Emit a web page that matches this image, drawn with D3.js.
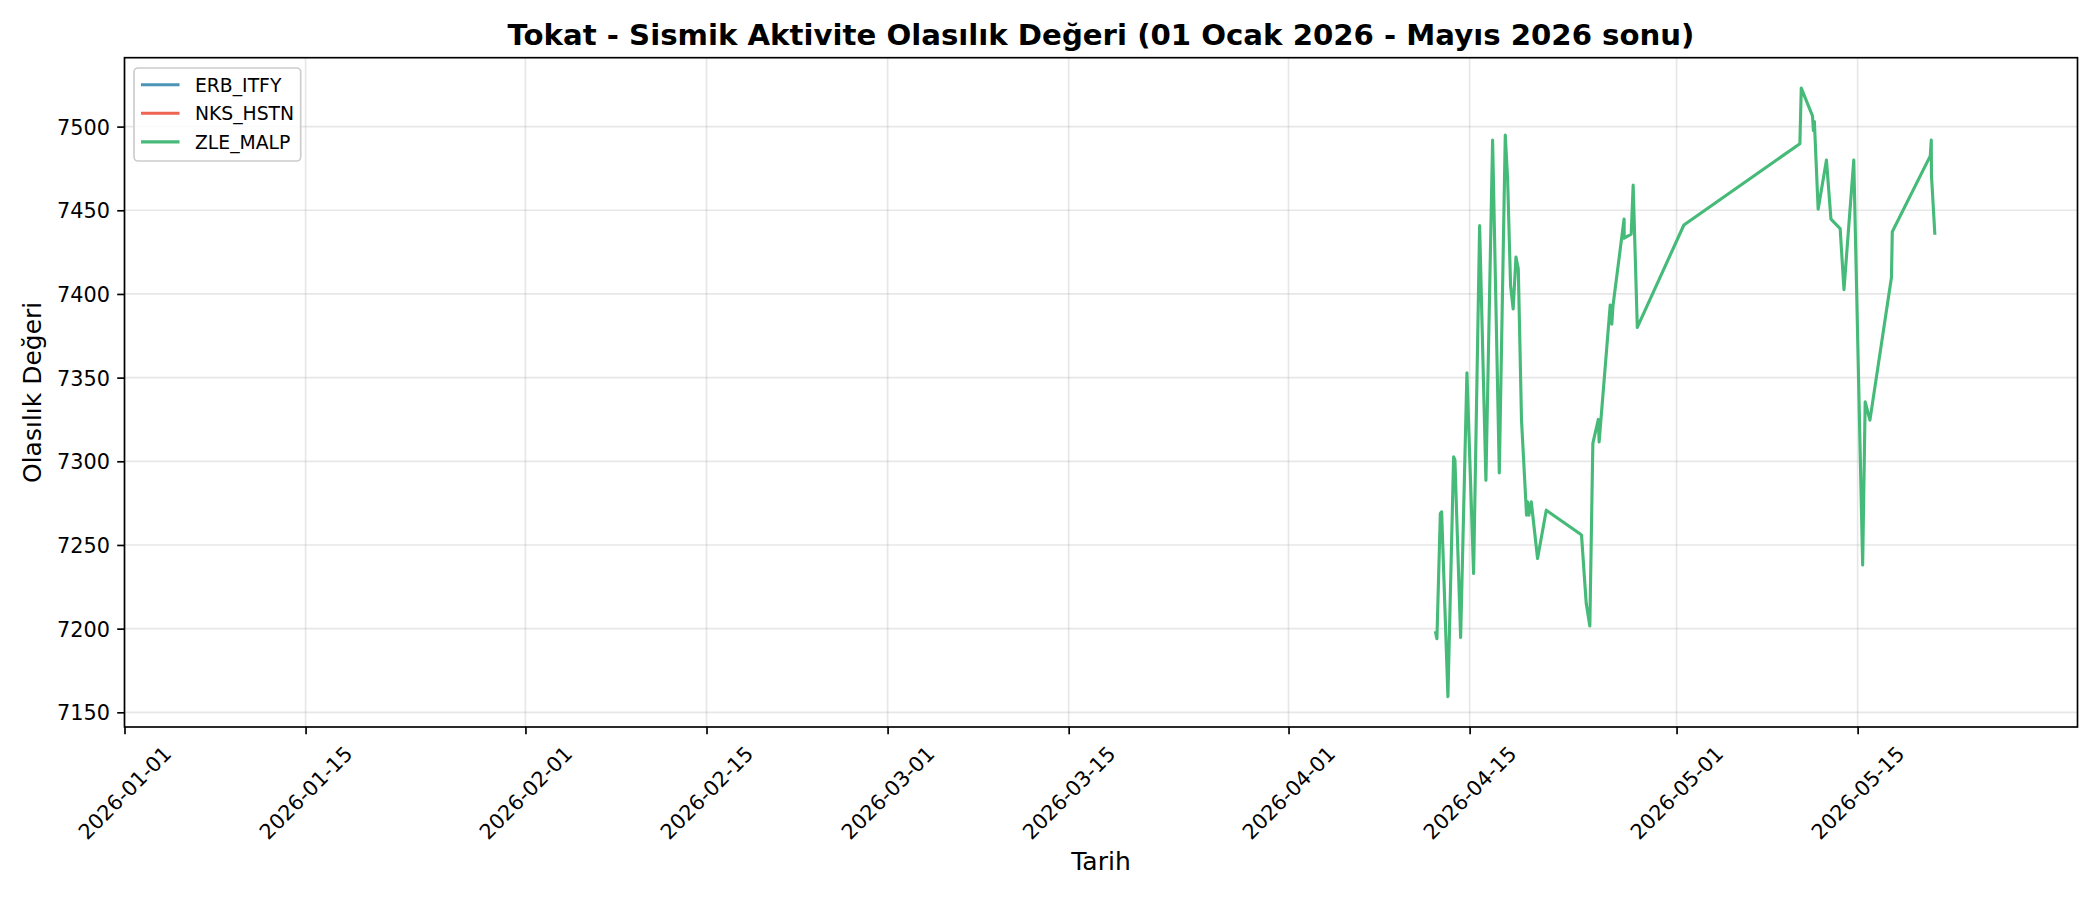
<!DOCTYPE html>
<html>
<head>
<meta charset="utf-8">
<script src="https://cdn.jsdelivr.net/npm/d3@7"></script>
<style>
  body { margin: 0; background: #fff; }
  svg { display: block; }
  text { font-family: "DejaVu Sans", sans-serif; fill: #000; }
</style>
</head>
<body>
<svg id="chart" width="2100" height="900"></svg>
<script>
// ---------------- DATA ----------------
const chartTitle = "Tokat - Sismik Aktivite Olasılık Değeri (01 Ocak 2026 - Mayıs 2026 sonu)";
const xLabel = "Tarih";
const yLabel = "Olasılık Değeri";

const seriesNames = ["ERB_ITFY", "NKS_HSTN", "ZLE_MALP"];
const seriesColors = ["#4a94b5", "#ee6352", "#46ba78"];

// ERB_ITFY and NKS_HSTN: no visible data in the period
const erbDates = [];
const erbValues = [];
const nksDates = [];
const nksValues = [];

const zleDates = [
  "2026-04-12 09:00", "2026-04-12 11:20", "2026-04-12 17:40", "2026-04-12 20:05",
  "2026-04-13 07:45", "2026-04-13 18:20", "2026-04-13 20:45", "2026-04-14 07:20",
  "2026-04-14 19:00", "2026-04-15 07:25", "2026-04-15 18:35", "2026-04-16 06:15",
  "2026-04-16 18:40", "2026-04-17 07:05", "2026-04-17 18:10", "2026-04-17 22:30",
  "2026-04-18 04:00", "2026-04-18 08:50", "2026-04-18 14:00", "2026-04-18 18:20",
  "2026-04-19 00:15", "2026-04-19 09:40", "2026-04-19 11:35", "2026-04-19 14:00",
  "2026-04-19 18:25", "2026-04-20 06:05", "2026-04-20 22:15", "2026-04-23 12:00",
  "2026-04-23 15:40", "2026-04-23 21:50", "2026-04-24 00:25", "2026-04-24 07:05",
  "2026-04-24 12:40", "2026-04-24 22:50", "2026-04-25 00:20", "2026-04-25 20:55",
  "2026-04-25 23:50", "2026-04-26 02:05", "2026-04-26 22:40", "2026-04-26 22:50",
  "2026-04-27 11:50", "2026-04-27 15:30", "2026-04-27 23:10", "2026-05-01 13:35",
  "2026-05-10 12:50", "2026-05-10 15:25", "2026-05-11 12:15", "2026-05-11 13:55",
  "2026-05-11 15:45", "2026-05-11 22:45", "2026-05-12 14:10", "2026-05-12 22:30",
  "2026-05-13 15:35", "2026-05-13 22:40", "2026-05-14 16:50", "2026-05-15 09:20",
  "2026-05-15 14:00", "2026-05-15 22:50", "2026-05-17 14:45", "2026-05-17 16:20",
  "2026-05-20 14:50", "2026-05-20 16:40", "2026-05-20 17:00", "2026-05-20 23:10"
];
const zleValues = [
  7197.5, 7194.0, 7268.8, 7269.8,
  7159.4, 7302.7, 7300.7, 7194.7,
  7352.9, 7233.0, 7440.8, 7288.7,
  7492.0, 7293.1, 7495.0, 7469.0,
  7405.0, 7391.0, 7422.0, 7415.0,
  7325.0, 7267.8, 7275.8, 7267.8,
  7275.8, 7241.9, 7270.8, 7256.9,
  7255.9, 7226.9, 7215.0, 7201.6,
  7310.7, 7325.0, 7311.6, 7393.4,
  7382.0, 7393.0, 7444.8, 7433.3,
  7435.7, 7465.0, 7380.0, 7441.2,
  7489.8, 7523.0, 7506.4, 7497.6,
  7503.0, 7450.6, 7480.0, 7444.7,
  7439.0, 7402.6, 7480.0, 7238.0,
  7335.5, 7324.6, 7409.8, 7437.2,
  7482.5, 7492.0, 7471.0, 7436.3
];

const xLimits = ["2026-01-01", "2026-06-01"];
const xTickLabels = ["2026-01-01", "2026-01-15", "2026-02-01", "2026-02-15", "2026-03-01",
                     "2026-03-15", "2026-04-01", "2026-04-15", "2026-05-01", "2026-05-15"];
const yTickValues = [7150, 7200, 7250, 7300, 7350, 7400, 7450, 7500];

// ---------------- LAYOUT ----------------
const L = 124.5, R = 2077.5, T = 57.7, B = 727;
const tickFont = 20.8, labelFont = 25, titleFont = 29.2, legendFont = 18.75;

const svg = d3.select("#chart");
const parseDT = d3.utcParse("%Y-%m-%d %H:%M");
const parseD = d3.utcParse("%Y-%m-%d");

const allSeries = [
  { name: seriesNames[0], color: seriesColors[0], data: erbDates.map((d, i) => ({ date: parseDT(d), value: erbValues[i] })) },
  { name: seriesNames[1], color: seriesColors[1], data: nksDates.map((d, i) => ({ date: parseDT(d), value: nksValues[i] })) },
  { name: seriesNames[2], color: seriesColors[2], data: zleDates.map((d, i) => ({ date: parseDT(d), value: zleValues[i] })) }
];

const x = d3.scaleUtc().domain(xLimits.map(parseD)).range([L, R]);

const allVals = allSeries.flatMap(s => s.data.map(d => d.value));
const ext = d3.extent(allVals);
const pad = (ext[1] - ext[0]) * 0.05;
const y = d3.scaleLinear().domain([ext[0] - pad, ext[1] + pad]).range([B, T]);

const xTickDates = xTickLabels.map(parseD);

// grid
const grid = svg.append("g");
grid.selectAll(".gx").data(xTickDates).enter().append("line")
  .attr("x1", d => x(d)).attr("x2", d => x(d)).attr("y1", T).attr("y2", B)
  .attr("stroke", "#b0b0b0").attr("stroke-opacity", 0.3).attr("stroke-width", 1.67);
grid.selectAll(".gy").data(yTickValues).enter().append("line")
  .attr("x1", L).attr("x2", R).attr("y1", d => y(d)).attr("y2", d => y(d))
  .attr("stroke", "#b0b0b0").attr("stroke-opacity", 0.3).attr("stroke-width", 1.67);

// clip
svg.append("defs").append("clipPath").attr("id", "clip")
  .append("rect").attr("x", L).attr("y", T).attr("width", R - L).attr("height", B - T);

// lines
const line = d3.line().x(d => x(d.date)).y(d => y(d.value));
svg.append("g").attr("clip-path", "url(#clip)")
  .selectAll("path").data(allSeries).enter().append("path")
  .attr("d", s => s.data.length ? line(s.data) : null)
  .attr("fill", "none")
  .attr("stroke", s => s.color)
  .attr("stroke-width", 3.125)
  .attr("stroke-linejoin", "round")
  .attr("stroke-linecap", "square");

// axes
const xAxis = d3.axisBottom(x).tickValues(xTickDates).tickFormat(d3.utcFormat("%Y-%m-%d"))
  .tickSize(7.3).tickSizeOuter(0);
const gx = svg.append("g").attr("transform", `translate(0,${B})`).call(xAxis);
gx.select(".domain").remove();
gx.selectAll(".tick line").attr("stroke", "#000").attr("stroke-width", 1.67);
gx.selectAll(".tick text")
  .attr("x", 0).attr("y", 0).attr("dy", null)
  .attr("text-anchor", "middle").attr("dominant-baseline", "central")
  .attr("transform", "translate(0,66) rotate(-45)")
  .style("font-size", tickFont + "px").style("font-family", "DejaVu Sans").attr("fill", "#000");

const yAxis = d3.axisLeft(y).tickValues(yTickValues).tickFormat(d3.format("d"))
  .tickSize(7.3).tickPadding(7.3).tickSizeOuter(0);
const gy = svg.append("g").attr("transform", `translate(${L},0)`).call(yAxis);
gy.select(".domain").remove();
gy.selectAll(".tick line").attr("stroke", "#000").attr("stroke-width", 1.67);
gy.selectAll(".tick text").attr("dy", "0.365em")
  .style("font-size", tickFont + "px").style("font-family", "DejaVu Sans").attr("fill", "#000");

// spines
svg.append("rect").attr("x", L).attr("y", T).attr("width", R - L).attr("height", B - T)
  .attr("fill", "none").attr("stroke", "#000").attr("stroke-width", 1.67);

// title & labels
svg.append("text").attr("x", (L + R) / 2).attr("y", 45).attr("text-anchor", "middle")
  .style("font-size", titleFont + "px").style("font-weight", "bold").text(chartTitle);
svg.append("text").attr("x", (L + R) / 2).attr("y", 870).attr("text-anchor", "middle")
  .style("font-size", labelFont + "px").text(xLabel);
svg.append("text").attr("transform", `translate(41,${(T + B) / 2}) rotate(-90)`)
  .attr("text-anchor", "middle").style("font-size", labelFont + "px").text(yLabel);

// legend
const lg = svg.append("g");
lg.append("rect").attr("x", 134).attr("y", 68).attr("width", 166.7).attr("height", 93)
  .attr("rx", 4).attr("fill", "#fff").attr("fill-opacity", 0.8)
  .attr("stroke", "#cccccc").attr("stroke-width", 1.67);
const entries = lg.selectAll(".entry").data(allSeries).enter().append("g")
  .attr("transform", (d, i) => `translate(0,${84.7 + i * 28.6})`);
entries.append("line").attr("x1", 141).attr("x2", 179.5).attr("y1", 0).attr("y2", 0)
  .attr("stroke", d => d.color).attr("stroke-width", 3.125);
entries.append("text").attr("x", 195).attr("y", 0).attr("dy", "0.365em")
  .style("font-size", legendFont + "px").text(d => d.name);
</script>
</body>
</html>
